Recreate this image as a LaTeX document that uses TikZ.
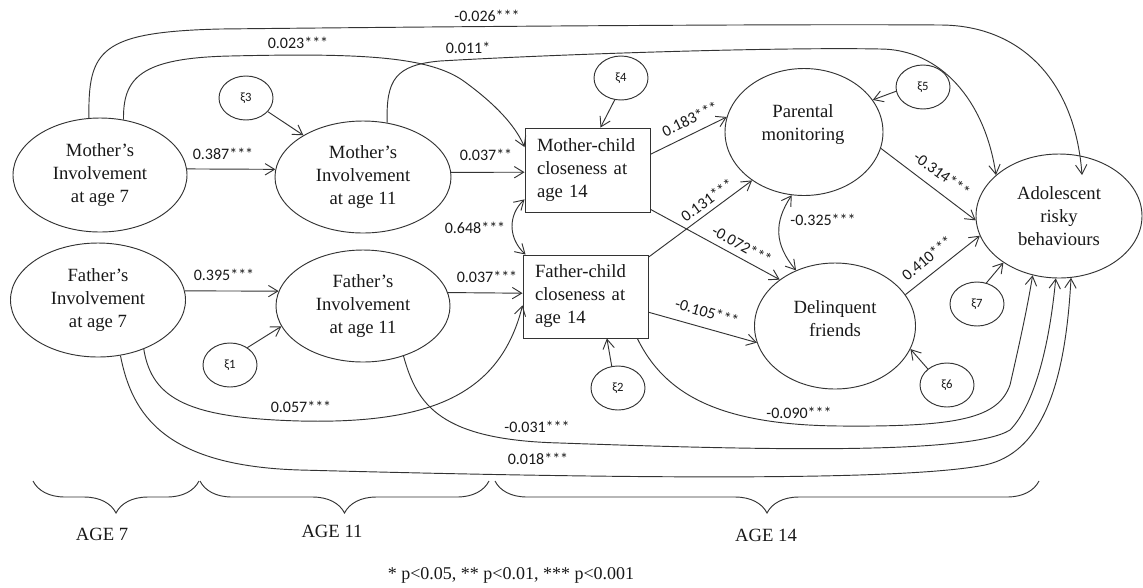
\documentclass[tikz,border=0pt]{standalone}
\usepackage{fontspec}
\setmainfont{Liberation Serif}
\newfontfamily\serifnodefont{Liberation Serif}
\newfontfamily\carlitofont{Carlito}
\usetikzlibrary{shapes.geometric,arrows.meta,decorations.pathreplacing,calc}
\begin{document}
\begin{tikzpicture}[x=0.75pt,y=-0.75pt,line width=0.7pt,draw=black!80,text=black!90,
  lat/.style={ellipse,draw,align=center,inner sep=0pt,font=\serifnodefont\fontsize{14}{17.25}\selectfont},
  ltxt/.style={align=center,inner sep=0pt,font=\serifnodefont\fontsize{14}{17.25}\selectfont},
  obs/.style={rectangle,draw,align=left,text width=75.75pt,inner xsep=9pt,inner ysep=0pt,minimum height=63pt,font=\serifnodefont\fontsize{14}{17.25}\selectfont},
  err/.style={ellipse,draw,minimum width=40.5pt,minimum height=33pt,inner sep=0pt,font=\carlitofont\fontsize{9.5}{11}\selectfont},
  arr/.style={-{Straight Barb[length=7pt,width=8.5pt]}},
  darr/.style={{Straight Barb[length=7pt,width=8.5pt]}-{Straight Barb[length=7pt,width=8.5pt]}},
  lbs/.style={inner sep=1pt,font=\carlitofont\fontsize{12}{14}\selectfont},
  brc/.style={decorate,decoration={brace,mirror,amplitude=24pt}},
  agel/.style={inner sep=1pt,font=\serifnodefont\fontsize{14}{16}\selectfont}]
\fill[white] (0,0) rectangle (1143,587);
\useasboundingbox (0,0) rectangle (1143,587);

% main nodes
\node[lat,minimum width=130.5pt,minimum height=85.5pt] (M7) at (100,175) {Mother’s\\Involvement\\at age 7};
\node[lat,minimum width=132pt,minimum height=84pt] (M11) at (363,177) {Mother’s\\Involvement\\at age 11};
\node[lat,minimum width=131.25pt,minimum height=85.5pt] (F7) at (98,300) {Father’s\\Involvement\\at age 7};
\node[lat,minimum width=130.5pt,minimum height=84pt] (F11) at (363,306) {Father’s\\Involvement\\at age 11};
\node[obs] (MC) at (587.5,170) {Mother-child\\closeness at\\age 14};
\node[obs,minimum height=62.25pt] (FC) at (585.5,296.5) {Father-child\\closeness at\\age 14};
\node[lat,minimum width=118.5pt,minimum height=95.25pt] (PM) at (804,132) {};
\node[ltxt] (PMt) at (803,125) {Parental\\monitoring};
\node[lat,minimum width=120.75pt,minimum height=94.5pt] (DF) at (835,326) {};
\node[ltxt] (DFt) at (835,319) {Delinquent\\friends};
\node[lat,minimum width=124.5pt,minimum height=93pt] (ARB) at (1059,216) {Adolescent\\risky\\behaviours};

% error terms
\node[err] (X3) at (246,98) {ξ3};
\node[err] (X4) at (621,78) {ξ4};
\node[err] (X5) at (923,87) {ξ5};
\node[err] (X1) at (230,365) {ξ1};
\node[err] (X2) at (618,388) {ξ2};
\node[err] (X6) at (947,385) {ξ6};
\node[err] (X7) at (977,304) {ξ7};

% straight paths
\draw[arr] (M7.4) -- (M11.175);
\draw[arr] (F7.6) -- (F11.170);
\draw[arr] (M11.3) -- (MC.182);
\draw[arr] (F11.9) -- (FC.177);
\draw[arr] (MC.14) -- (PM.169);
\draw[arr] (MC.-32) -- (DF.140);
\draw[arr] (FC.32) -- (PM.223);
\draw[arr] (FC.-14) -- (DF.192);
\draw[arr] (PM.-12) -- (ARB.183);
\draw[arr] (DF.24) -- (ARB.194);

% error arrows
\draw[arr] (X3.-32) -- (M11.145);
\draw[arr] (X4.-106) -- (MC.73);
\draw[arr] (X5.189) -- (PM.25);
\draw[arr] (X1.45) -- (F11.194);
\draw[arr] (X2.106) -- (FC.-63);
\draw[arr] (X6.140) -- (DF.-17);
\draw[arr] (X7.66) -- (ARB.220);

% covariances
\draw[darr] (MC.205) .. controls (508,215) and (508,238) .. (FC.145);
\draw[darr] (PM.-101) .. controls (774,222) and (774,244) .. (DF.125);

% long curved paths (top)
\draw[arr] (M7.101) .. controls (88,50) and (100,32) .. (220,29)
  .. controls (500,26) and (800,24) .. (940,25)
  .. controls (1020,25) and (1075,80) .. ($(ARB.center)+(23,-41)$);
\draw[arr] (M11.66) .. controls (386,80) and (395,65) .. (440,61)
  .. controls (560,54) and (780,47) .. (880,49)
  .. controls (940,49) and (985,100) .. (ARB.147);
\draw[arr] (M7.67) .. controls (123,78) and (140,58) .. (230,56)
  .. controls (360,53) and (430,56) .. (465,82)
  .. controls (495,104) and (515,125) .. (MC.160);

% long curved paths (bottom)
\draw[arr] (F7.-47) .. controls (152,400) and (190,418) .. (300,421)
  .. controls (430,424) and (500,395) .. (FC.188);
\draw[arr] (F11.-51) .. controls (417,405) and (440,440) .. (560,443)
  .. controls (760,450) and (970,455) .. (1010,430)
  .. controls (1030,410) and (1048,360) .. (ARB.-93);
\draw[arr] (FC.-39) .. controls (665,395) and (720,425) .. (840,426)
  .. controls (960,427) and (998,418) .. (1010,385)
  .. controls (1018,350) and (1027,310) .. (ARB.-114);
\draw[arr] (F7.-68) .. controls (132,415) and (165,466) .. (300,470)
  .. controls (600,478) and (900,482) .. (985,465)
  .. controls (1040,453) and (1065,390) .. (ARB.-79);

% labels
\node[lbs] (l01) at (487,16) {-0.026***};
\node[lbs] (l02) at (298,43) {0.023***};
\node[lbs] (l03) at (468,48) {0.011*};
\node[lbs] (l04) at (223,154) {0.387***};
\node[lbs] (l05) at (224,275) {0.395***};
\node[lbs] (l06) at (486,155) {0.037**};
\node[lbs] (l07) at (487,277) {0.037***};
\node[lbs] (l08) at (475,228) {0.648***};
\node[lbs,rotate=26] (l09) at (690,119) {0.183***};
\node[lbs,rotate=36] (l10) at (707,200) {0.131***};
\node[lbs,rotate=-29] (l11) at (742,245) {-0.072***};
\node[lbs,rotate=-16] (l12) at (707,312) {-0.105***};
\node[lbs] (l13) at (823,220) {-0.325***};
\node[lbs,rotate=-36] (l14) at (942,174) {-0.314***};
\node[lbs,rotate=40] (l15) at (927,258) {0.410***};
\node[lbs] (l16) at (301,407) {0.057***};
\node[lbs] (l17) at (537,427) {-0.031***};
\node[lbs] (l18) at (538,459) {0.018***};
\node[lbs] (l19) at (799,413) {-0.090***};

% braces and ages
\draw[brc] (33,481) -- (199,481);
\draw[brc] (200,481) -- (489,481);
\draw[brc] (495,481) -- (1039,481);
\node[agel] (a7) at (102,534) {AGE 7};
\node[agel] (a11) at (332,531) {AGE 11};
\node[agel] (a14) at (766,535) {AGE 14};
\node[inner sep=1pt,font=\serifnodefont\fontsize{13.5}{16}\selectfont] (leg) at (511,575) {* p<0.05, ** p<0.01, *** p<0.001};
\end{tikzpicture}
\end{document}
